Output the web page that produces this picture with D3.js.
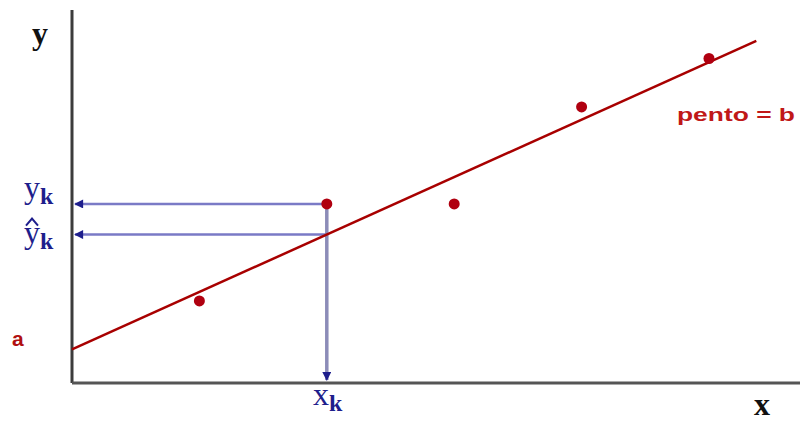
<!DOCTYPE html>
<html>
<head>
<meta charset="utf-8">
<script src="https://cdn.jsdelivr.net/npm/d3@7/dist/d3.min.js"></script>
<style>
  html, body { margin: 0; padding: 0; background: #fff; }
  svg { display: block; }
</style>
</head>
<body>
<svg id="chart" width="800" height="423"></svg>
<script>
// Observed points (x, y)
const xs = [1.75, 3.5, 5.25, 7.0, 8.75];
const ys = [2.2, 4.8, 4.8, 7.4, 8.7];
// Fitted line: y = a + b x
const intercept = 0.9;
const slope = 0.88;
const lineExtent = [0, 9.4];
// Highlighted observation k
const kIndex = 1;

const svg = d3.select("#chart");
const x = d3.scaleLinear().domain([0, 10]).range([72, 800]);
const y = d3.scaleLinear().domain([0, 10]).range([383, 10]);

const blue = "#7a7ac6";
const red = "#a80000";
const ink = "#1e1e8c";

const defs = svg.append("defs");
defs.append("marker")
  .attr("id", "arrow")
  .attr("viewBox", "0 0 10 10")
  .attr("refX", 9).attr("refY", 5)
  .attr("markerUnits", "userSpaceOnUse")
  .attr("markerWidth", 10).attr("markerHeight", 9)
  .attr("orient", "auto-start-reverse")
  .append("path").attr("d", "M0,0 L10,5 L0,10 z").attr("fill", ink);

// Axes
svg.append("line")
  .attr("x1", x(0)).attr("y1", y(10)).attr("x2", x(0)).attr("y2", y(0))
  .attr("stroke", "#3c3c3c").attr("stroke-width", 3);
svg.append("line")
  .attr("x1", x(0)).attr("y1", y(0)).attr("x2", x(10)).attr("y2", y(0))
  .attr("stroke", "#555").attr("stroke-width", 3);

const xk = xs[kIndex], yk = ys[kIndex];
const yhat = intercept + slope * xk;

// Guides from point k to the axes
svg.append("line")
  .attr("x1", x(xk)).attr("y1", y(yk)).attr("x2", x(0) + 3).attr("y2", y(yk))
  .attr("stroke", blue).attr("stroke-width", 2.5)
  .attr("marker-end", "url(#arrow)");
svg.append("line")
  .attr("x1", x(xk)).attr("y1", y(yhat)).attr("x2", x(0) + 3).attr("y2", y(yhat))
  .attr("stroke", blue).attr("stroke-width", 2.5)
  .attr("marker-end", "url(#arrow)");
svg.append("line")
  .attr("x1", x(xk)).attr("y1", y(yk)).attr("x2", x(xk)).attr("y2", y(0) - 3)
  .attr("stroke", "#8c8cb8").attr("stroke-width", 3.5)
  .attr("marker-end", "url(#arrow)");

// Regression line
const line = d3.line().x(d => x(d)).y(d => y(intercept + slope * d));
svg.append("path")
  .datum(lineExtent)
  .attr("d", line)
  .attr("stroke", red).attr("stroke-width", 2.5).attr("fill", "none");

// Points
svg.selectAll("circle.pt")
  .data(xs.map((v, i) => [v, ys[i]]))
  .join("circle")
  .attr("class", "pt")
  .attr("cx", d => x(d[0])).attr("cy", d => y(d[1]))
  .attr("r", 5.5).attr("fill", "#b00010");

// Labels
const serif = "'Liberation Serif', 'DejaVu Serif', serif";
svg.append("text").attr("x", 32).attr("y", 44)
  .attr("font-family", serif).attr("font-weight", "bold").attr("font-size", 32)
  .attr("fill", "#111").text("y");
svg.append("text").attr("x", 754).attr("y", 415)
  .attr("font-family", serif).attr("font-weight", "bold").attr("font-size", 32)
  .attr("fill", "#111").text("x");

function subLabel(tx, ty, main, sub, hat) {
  const g = svg.append("text").attr("x", tx).attr("y", ty)
    .attr("font-family", serif).attr("font-size", 32).attr("fill", ink);
  g.append("tspan").text(main);
  g.append("tspan").attr("font-size", 24).attr("font-weight", "bold").attr("dy", 6).text(sub);
  if (hat) {
    // circumflex drawn as a small chevron above the letter
    svg.append("path")
      .attr("d", `M${tx + 2},${ty - 17} L${tx + 8},${ty - 24} L${tx + 14},${ty - 17}`)
      .attr("stroke", ink).attr("stroke-width", 2).attr("fill", "none");
  }
}
subLabel(24, y(yk) - 6, "y", "k", false);
subLabel(24, y(yhat) + 8, "y", "k", true);
subLabel(313, 405, "x", "k", false);

svg.append("text").attr("x", 12).attr("y", 346)
  .attr("font-family", "'Liberation Sans', Arial, sans-serif").attr("font-weight", "bold")
  .attr("font-size", 21).attr("fill", "#b01010").text("a");
svg.append("text").attr("x", 677).attr("y", 121)
  .attr("font-family", "'Liberation Sans', Arial, sans-serif").attr("font-weight", "bold")
  .attr("font-size", 19).attr("fill", "#c01818")
  .attr("textLength", 118).attr("lengthAdjust", "spacingAndGlyphs")
  .text("pento = b");
</script>
</body>
</html>
